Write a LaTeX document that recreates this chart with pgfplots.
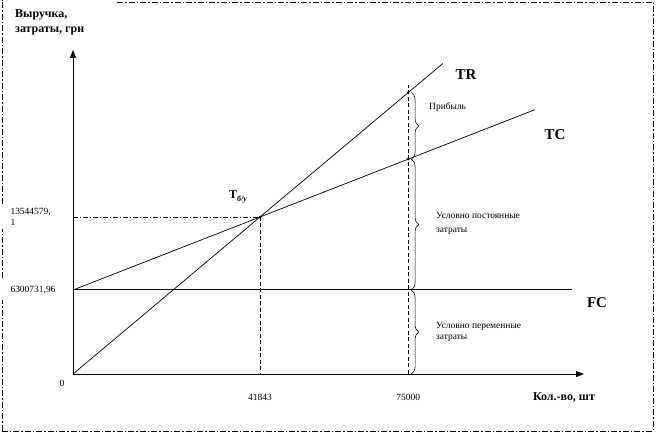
\documentclass[border=0pt]{standalone}
\usepackage{fontspec}
\setmainfont{Liberation Serif}
\usepackage{pgfplots}
\pgfplotsset{compat=1.18}
\usetikzlibrary{arrows.meta,decorations.pathreplacing}
\newcommand\sm{\fontsize{9.5}{11}\selectfont}
\newcommand\bg{\bfseries\fontsize{12}{15}\selectfont}
\newcommand\bh{\bfseries\fontsize{15}{18}\selectfont}
\begin{document}
\begin{tikzpicture}
\path[use as bounding box] (0,0) rectangle (656bp,434bp);
\begin{axis}[at={(73bp,60bp)}, anchor=south west, scale only axis,
  width=511bp, height=324bp,
  xmin=0, xmax=114342, ymin=0, ymax=24302819,
  axis lines=left,
  axis line style={line width=0.9bp, -{Triangle[length=8bp,width=6bp]}},
  scaled ticks=false,
  xtick={41843,75000}, xticklabels={41843,75000},
  ytick={6300731.96,11776366}, yticklabels={{6300731,96},{13544579,\\1}},
  major tick length=0pt,
  tick label style={font=\sm},
  xticklabel style={yshift=-17bp},
  yticklabel style={anchor=west, align=left, xshift=-66bp},
  clip=false]
% TR
\addplot[line width=0.7bp] coordinates {(0,0) (41843,11776366) (82791,23300600)};
% TC
\addplot[line width=0.7bp] coordinates {(0,6300731.96) (41843,11776366) (103377,19828700)};
% FC
\addplot[line width=1bp] coordinates {(0,6300731.96) (111656,6300731.96)};
% break-even guides
\addplot[line width=0.6bp, dash pattern=on 5bp off 2bp on 1bp off 2bp] coordinates {(0,11776366) (41843,11776366)};
\addplot[line width=0.6bp, dash pattern=on 4bp off 2.5bp] coordinates {(41843,11776366) (41843,0)};
% 75000 guide
\addplot[line width=0.6bp, dash pattern=on 4bp off 2.5bp] coordinates {(75000,0) (75000,21677500)};
% points
\addplot[only marks, mark=*, mark size=1.1bp] coordinates {(41843,11776366) (75000,21108000) (75000,16115200)};
% braces
\begin{scope}[line width=0.6bp]
\draw[decorate, decoration={brace, amplitude=7.5bp}] (axis cs:75700,21108000) -- (axis cs:75700,16115200);
\draw[decorate, decoration={brace, amplitude=7.5bp}] (axis cs:75700,16115200) -- (axis cs:75700,6300731.96);
\draw[decorate, decoration={brace, amplitude=7.5bp}] (axis cs:75700,6300731.96) -- (axis cs:75700,0);
\end{scope}
\end{axis}
\begin{scope}[x=1bp, y=-1bp, shift={(0,434bp)}]
% frame
\begin{scope}[line width=0.9bp, dash pattern=on 6bp off 2bp on 1.5bp off 2bp]
\draw (117,2) -- (653,2) -- (653,431) -- (2,431);
\draw (2,431) -- (2,300);
\draw (2,278) -- (2,229);
\draw (2,204) -- (2,0);
\end{scope}
% labels
\begin{scope}[every node/.style={inner sep=0pt}]
\node[anchor=base west, font=\bg] at (15,18) {Выручка,};
\node[anchor=base west, font=\bg] at (15,33) {затраты, грн};
\node[anchor=base, font=\bg] at (564,401) {Кол.-во, шт};
\node[font=\sm] at (62,383) {0};
\node[font=\bh] at (466,75) {TR};
\node[font=\bh] at (555,135) {TC};
\node[font=\bh] at (597,303) {FC};
\node[anchor=base west, font=\bg] at (229,199) {Т\raisebox{-2.5bp}{\fontsize{8}{9}\selectfont\itshape б/у}};
\node[anchor=base west, font=\sm] at (429,110) {Прибыль};
\node[anchor=base west, font=\sm] at (436,218.5) {Условно постоянные};
\node[anchor=base west, font=\sm] at (436,232.5) {затраты};
\node[anchor=base west, font=\sm] at (436,328.5) {Условно переменные};
\node[anchor=base west, font=\sm] at (436,340) {затраты};
\end{scope}
\end{scope}
\end{tikzpicture}
\end{document}
